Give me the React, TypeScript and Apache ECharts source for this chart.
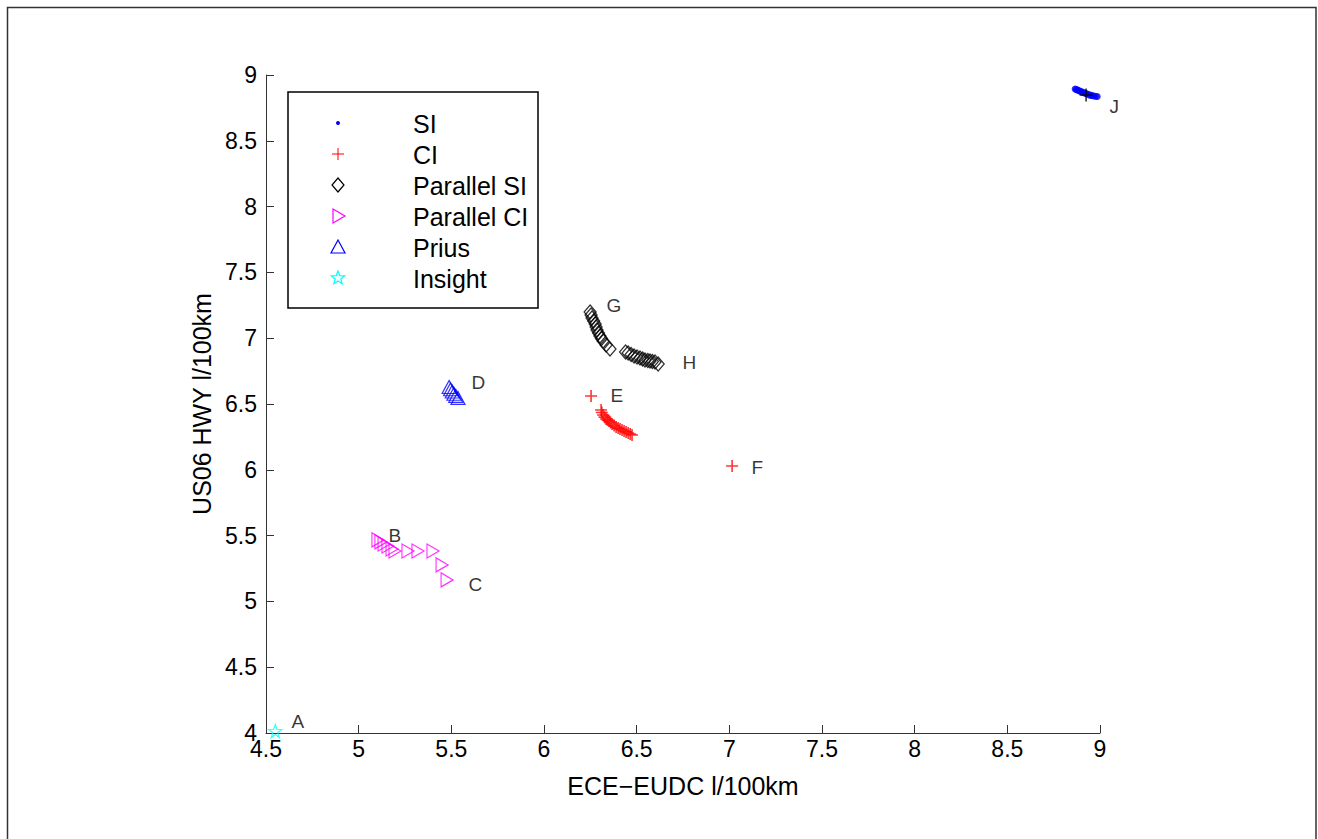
import React, { useEffect, useRef } from "react";
import * as echarts from "echarts";

const xTicks = { min: 4.5, max: 9, interval: 0.5 };
const yTicks = { min: 4, max: 9, interval: 0.5 };

const seriesNames = ["SI", "CI", "Parallel SI", "Parallel CI", "Prius", "Insight"];

const siData = [
  [8.866, 8.894], [8.872, 8.890], [8.880, 8.885], [8.888, 8.880], [8.896, 8.875],
  [8.905, 8.870], [8.914, 8.865], [8.923, 8.860], [8.932, 8.855], [8.942, 8.849],
  [8.952, 8.845], [8.962, 8.842], [8.974, 8.839], [8.985, 8.837],
];
const ciData = [
  [6.254, 6.561], [6.308, 6.454], [6.312, 6.435], [6.319, 6.416], [6.327, 6.400],
  [6.335, 6.386], [6.343, 6.378], [6.351, 6.371], [6.359, 6.360], [6.367, 6.348],
  [6.378, 6.336], [6.389, 6.325], [6.400, 6.317], [6.410, 6.310], [6.421, 6.302],
  [6.432, 6.295], [6.443, 6.288], [6.454, 6.280], [6.465, 6.272], [6.475, 6.264],
  [7.015, 6.029],
];
const ciBlackMark = [[8.925, 8.848]];
const parSiData = [
  [6.249, 7.199], [6.254, 7.176], [6.259, 7.153], [6.268, 7.130], [6.276, 7.108],
  [6.281, 7.085], [6.286, 7.062], [6.294, 7.040], [6.302, 7.017], [6.310, 6.998],
  [6.319, 6.979], [6.335, 6.948], [6.356, 6.918],
  [6.440, 6.895], [6.454, 6.888], [6.470, 6.876], [6.486, 6.865], [6.502, 6.857],
  [6.518, 6.850], [6.532, 6.842], [6.545, 6.834], [6.560, 6.830], [6.572, 6.827],
  [6.585, 6.823], [6.599, 6.819], [6.616, 6.804],
];
const parCiData = [
  [5.104, 5.467], [5.120, 5.452], [5.137, 5.436], [5.158, 5.421], [5.180, 5.398],
  [5.196, 5.383], [5.266, 5.383], [5.320, 5.383], [5.401, 5.383], [5.450, 5.277],
  [5.477, 5.163],
];
const priusData = [
  [5.488, 6.629], [5.496, 6.612], [5.505, 6.595], [5.514, 6.578], [5.524, 6.562],
  [5.536, 6.546],
];
const insightData = [[4.55, 4.015]];

const pointLabels = [
  { name: "A", value: [4.635, 4.084] },
  { name: "B", value: [5.158, 5.497] },
  { name: "C", value: [5.590, 5.132] },
  { name: "D", value: [5.606, 6.667] },
  { name: "E", value: [6.356, 6.568] },
  { name: "F", value: [7.117, 6.021] },
  { name: "G", value: [6.335, 7.252] },
  { name: "H", value: [6.745, 6.812] },
  { name: "J", value: [9.049, 8.764] },
];

const FONT = "'Liberation Sans', Arial, Helvetica, sans-serif";

const PLUS = "path://M0,5L10,5M5,0L5,10";
const DIAMOND = "path://M5,0L10,6L5,12L0,6Z";
const TRI_RIGHT = "path://M0,0L10,5L0,10Z";
const TRI_UP = "path://M5,0L10,9L0,9Z";
const STAR =
  "path://M50,0L61.8,36.2L100,38.2L69.1,61.8L80.9,100L50,76.4L19.1,100L30.9,61.8L0,38.2L38.2,36.2Z";

const hollow = (c: string, w = 1) => ({ color: "rgba(0,0,0,0)", borderColor: c, borderWidth: w });

function legendGraphics() {
  const left = 288, top = 92, w = 250, h = 216;
  const symX = 338, textX = 413;
  const rows = [123, 154, 185, 216, 247, 278];
  const els: any[] = [
    { type: "rect", shape: { x: left, y: top, width: w, height: h }, style: { fill: "#fff", stroke: "#000", lineWidth: 1.5 }, z: 10 },
  ];
  const colors = ["#0000ff", "#ff0000", "#000000", "#ff00ff", "#0000ff", "#00ffff"];
  rows.forEach((y, i) => {
    els.push({ type: "text", x: textX, y: y + 1, style: { text: seriesNames[i], font: `25px ${FONT}`, fill: "#000", verticalAlign: "middle" }, z: 11 });
    const c = colors[i];
    if (i === 0) els.push({ type: "circle", shape: { cx: symX, cy: y, r: 2 }, style: { fill: c }, z: 11 });
    if (i === 1) {
      els.push({ type: "line", shape: { x1: symX - 6, y1: y, x2: symX + 6, y2: y }, style: { stroke: c, lineWidth: 1 }, z: 11 });
      els.push({ type: "line", shape: { x1: symX, y1: y - 6, x2: symX, y2: y + 6 }, style: { stroke: c, lineWidth: 1 }, z: 11 });
    }
    if (i === 2) els.push({ type: "polygon", shape: { points: [[symX, y - 7], [symX + 6, y], [symX, y + 7], [symX - 6, y]] }, style: { fill: "none", stroke: c, lineWidth: 1.2 }, z: 11 });
    if (i === 3) els.push({ type: "polygon", shape: { points: [[symX - 5, y - 7], [symX + 7, y], [symX - 5, y + 7]] }, style: { fill: "none", stroke: c, lineWidth: 1.2 }, z: 11 });
    if (i === 4) els.push({ type: "polygon", shape: { points: [[symX, y - 7], [symX + 7, y + 6], [symX - 7, y + 6]] }, style: { fill: "none", stroke: c, lineWidth: 1.2 }, z: 11 });
    if (i === 5) {
      const pts: number[][] = [];
      for (let k = 0; k < 10; k++) {
        const r = k % 2 === 0 ? 7 : 3;
        const a = -Math.PI / 2 + (k * Math.PI) / 5;
        pts.push([symX + r * Math.cos(a), y + r * Math.sin(a)]);
      }
      els.push({ type: "polygon", shape: { points: pts }, style: { fill: "none", stroke: c, lineWidth: 1.2 }, z: 11 });
    }
  });
  return els;
}

export default function App() {
  const ref = useRef<HTMLDivElement>(null);
  useEffect(() => {
    if (!ref.current) return;
    const chart = echarts.init(ref.current, null, { renderer: "svg" });
    const axisCommon = {
      axisLine: { show: true, lineStyle: { color: "#333", width: 1 } },
      axisTick: { show: true, inside: true, length: 8, lineStyle: { color: "#333" } },
      splitLine: { show: false },
      nameLocation: "middle" as const,
      nameTextStyle: { fontSize: 25, fontFamily: FONT, color: "#000" },
    };
    chart.setOption({
      animation: false,
      backgroundColor: "#fff",
      grid: { left: 266, top: 75, width: 834, height: 658, containLabel: false },
      xAxis: {
        type: "value",
        ...xTicks,
        ...axisCommon,
        name: "ECE\u2212EUDC l/100km",
        nameGap: 40,
        axisLabel: { fontSize: 23, fontFamily: FONT, color: "#000", margin: 4 },
      },
      yAxis: {
        type: "value",
        ...yTicks,
        ...axisCommon,
        name: "US06 HWY l/100km",
        nameGap: 47,
        axisLabel: { fontSize: 23, fontFamily: FONT, color: "#000", margin: 9 },
      },
      graphic: [
        { type: "rect", shape: { x: 7.5, y: 7.5, width: 1308.5, height: 860 }, style: { fill: "none", stroke: "#333", lineWidth: 1.5 }, z: 0 },
        ...legendGraphics(),
      ],
      series: [
        { name: seriesNames[0], type: "scatter", data: siData, symbol: "circle", symbolSize: 7, itemStyle: { color: "#0000ff" }, clip: false },
        { name: seriesNames[1], type: "scatter", data: ciData, symbol: PLUS, symbolSize: 12, itemStyle: hollow("#ff0000", 1.6), clip: false },
        { name: "CI mark", type: "scatter", data: ciBlackMark, symbol: PLUS, symbolSize: 13, itemStyle: hollow("#000000", 1.6), clip: false, z: 5 },
        { name: seriesNames[2], type: "scatter", data: parSiData, symbol: DIAMOND, symbolSize: [12, 14], itemStyle: hollow("#000000", 1.3), clip: false },
        { name: seriesNames[3], type: "scatter", data: parCiData, symbol: TRI_RIGHT, symbolSize: [12, 14], itemStyle: hollow("#ff00ff", 1.2), clip: false },
        { name: seriesNames[4], type: "scatter", data: priusData, symbol: TRI_UP, symbolSize: [14, 13], itemStyle: hollow("#0000ff", 1.2), clip: false },
        { name: seriesNames[5], type: "scatter", data: insightData, symbol: STAR, symbolSize: 13, itemStyle: hollow("#00ffff", 1.2), clip: false },
        {
          name: "labels",
          type: "scatter",
          data: pointLabels,
          symbolSize: 1,
          itemStyle: { color: "rgba(0,0,0,0)" },
          clip: false,
          label: { show: true, position: "right", distance: 0, formatter: "{b}", fontSize: 19, fontFamily: FONT, color: "#000" },
        },
      ],
    });
    return () => chart.dispose();
  }, []);
  return <div ref={ref} style={{ position: "absolute", left: 0, top: 0, width: 1318, height: 839 }} />;
}
